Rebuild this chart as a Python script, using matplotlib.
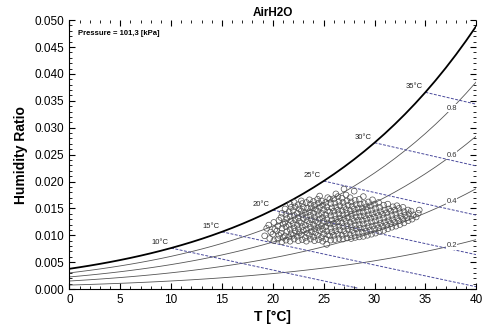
import numpy as np
from matplotlib import pyplot as plt
from matplotlib.ticker import MultipleLocator

plt.rcParams["font.family"] = ["Liberation Sans", "DejaVu Sans"]

P_atm = 101.3  # kPa

# saturation pressure of water [kPa], 0..40 C
T_tab = list(range(0, 41))
psat_tab = [0.6113, 0.6571, 0.7060, 0.7581, 0.8135, 0.8725, 0.9353, 1.0020, 1.0729, 1.1481,
            1.2281, 1.3129, 1.4027, 1.4979, 1.5988, 1.7056, 1.8185, 1.9380, 2.0644, 2.1978,
            2.3388, 2.4877, 2.6447, 2.8104, 2.9850, 3.1690, 3.3629, 3.5670, 3.7818, 4.0078,
            4.2455, 4.4953, 4.7578, 5.0335, 5.3229, 5.6267, 5.9453, 6.2795, 6.6298, 6.9969,
            7.3814]

rh_levels = [1.0, 0.8, 0.6, 0.4, 0.2]
rh_labels = ["", "0.8", "0.6", "0.4", "0.2"]
twb_levels = [10, 15, 20, 25, 30, 35]
twb_labels = ["10°C", "15°C", "20°C", "25°C", "30°C", "35°C"]

# measured points
meas_T = [
    19.2, 19.4,
    19.7, 19.8, 19.6,
    20.1, 20.0, 20.2, 20.1,
    20.5, 20.6, 20.4, 20.5, 20.6,
    20.9, 21.0, 20.8, 20.9, 21.0, 20.8, 20.9,
    21.3, 21.2, 21.4, 21.3, 21.2, 21.4, 21.3, 21.2,
    21.7, 21.6, 21.8, 21.7, 21.6, 21.8, 21.7, 21.6, 21.8, 21.7,
    22.1, 22.0, 22.2, 22.1, 22.0, 22.2, 22.1, 22.0, 22.2, 22.1,
    22.5, 22.4, 22.6, 22.5, 22.4, 22.6, 22.5, 22.4, 22.6, 22.5,
    22.9, 22.8, 23.0, 22.9, 22.8, 23.0, 22.9, 22.8, 23.0, 22.9, 22.8,
    23.3, 23.2, 23.4, 23.3, 23.2, 23.4, 23.3, 23.2, 23.4, 23.3,
    23.7, 23.6, 23.8, 23.7, 23.6, 23.8, 23.7, 23.6, 23.8, 23.7, 23.6,
    24.1, 24.0, 24.2, 24.1, 24.0, 24.2, 24.1, 24.0, 24.2, 24.1, 24.0,
    24.5, 24.4, 24.6, 24.5, 24.4, 24.6, 24.5, 24.4, 24.6, 24.5, 24.4, 24.6,
    24.9, 24.8, 25.0, 24.9, 24.8, 25.0, 24.9, 24.8, 25.0, 24.9, 24.8,
    25.3, 25.2, 25.4, 25.3, 25.2, 25.4, 25.3, 25.2, 25.4, 25.3, 25.2, 25.4,
    25.7, 25.6, 25.8, 25.7, 25.6, 25.8, 25.7, 25.6, 25.8, 25.7, 25.6,
    26.1, 26.0, 26.2, 26.1, 26.0, 26.2, 26.1, 26.0, 26.2, 26.1, 26.0, 26.2,
    26.5, 26.4, 26.6, 26.5, 26.4, 26.6, 26.5, 26.4, 26.6, 26.5, 26.4,
    26.9, 26.8, 27.0, 26.9, 26.8, 27.0, 26.9, 26.8, 27.0, 26.9, 26.8, 27.0,
    27.3, 27.2, 27.4, 27.3, 27.2, 27.4, 27.3, 27.2, 27.4, 27.3, 27.2,
    27.7, 27.6, 27.8, 27.7, 27.6, 27.8, 27.7, 27.6, 27.8, 27.7, 27.6,
    28.1, 28.0, 28.2, 28.1, 28.0, 28.2, 28.1, 28.0, 28.2, 28.1, 28.0,
    28.5, 28.4, 28.6, 28.5, 28.4, 28.6, 28.5, 28.4, 28.6, 28.5,
    28.9, 28.8, 29.0, 28.9, 28.8, 29.0, 28.9, 28.8, 29.0, 28.9,
    29.3, 29.2, 29.4, 29.3, 29.2, 29.4, 29.3, 29.2, 29.4,
    29.7, 29.6, 29.8, 29.7, 29.6, 29.8, 29.7, 29.6, 29.8,
    30.1, 30.0, 30.2, 30.1, 30.0, 30.2, 30.1, 30.0,
    30.5, 30.4, 30.6, 30.5, 30.4, 30.6, 30.5, 30.4,
    30.9, 30.8, 31.0, 30.9, 30.8, 31.0, 30.9,
    31.3, 31.2, 31.4, 31.3, 31.2, 31.4, 31.3,
    31.7, 31.6, 31.8, 31.7, 31.6, 31.8,
    32.1, 32.0, 32.2, 32.1, 32.0, 32.2,
    32.5, 32.4, 32.6, 32.5, 32.4,
    32.9, 32.8, 33.0, 32.9, 32.8,
    33.3, 33.2, 33.4, 33.3,
    33.7, 33.8, 33.6,
    34.1, 34.3, 34.4,
]
meas_w = [
    0.0099, 0.0113,
    0.0094, 0.0106, 0.0119,
    0.0090, 0.0102, 0.0111, 0.0124,
    0.0093, 0.0100, 0.0108, 0.0117, 0.0128,
    0.0088, 0.0096, 0.0104, 0.0113, 0.0121, 0.0133, 0.0141,
    0.0091, 0.0099, 0.0107, 0.0116, 0.0124, 0.0131, 0.0139, 0.0149,
    0.0089, 0.0097, 0.0103, 0.0111, 0.0119, 0.0127, 0.0135, 0.0144, 0.0152, 0.0158,
    0.0093, 0.0100, 0.0108, 0.0114, 0.0122, 0.0129, 0.0137, 0.0146, 0.0153, 0.0161,
    0.0090, 0.0098, 0.0105, 0.0112, 0.0119, 0.0126, 0.0133, 0.0141, 0.0149, 0.0157,
    0.0092, 0.0101, 0.0109, 0.0116, 0.0123, 0.0131, 0.0138, 0.0145, 0.0152, 0.0159, 0.0164,
    0.0089, 0.0096, 0.0104, 0.0111, 0.0119, 0.0127, 0.0134, 0.0142, 0.0150, 0.0161,
    0.0093, 0.0100, 0.0107, 0.0115, 0.0122, 0.0129, 0.0137, 0.0144, 0.0151, 0.0158, 0.0166,
    0.0090, 0.0097, 0.0105, 0.0112, 0.0120, 0.0127, 0.0134, 0.0141, 0.0149, 0.0156, 0.0163,
    0.0092, 0.0100, 0.0108, 0.0115, 0.0123, 0.0130, 0.0138, 0.0145, 0.0152, 0.0160, 0.0167, 0.0173,
    0.0089, 0.0096, 0.0103, 0.0111, 0.0118, 0.0126, 0.0133, 0.0141, 0.0148, 0.0156, 0.0164,
    0.0083, 0.0093, 0.0101, 0.0108, 0.0116, 0.0123, 0.0131, 0.0138, 0.0146, 0.0153, 0.0161, 0.0170,
    0.0091, 0.0099, 0.0106, 0.0113, 0.0121, 0.0128, 0.0136, 0.0143, 0.0151, 0.0159, 0.0167,
    0.0092, 0.0100, 0.0108, 0.0115, 0.0122, 0.0130, 0.0137, 0.0145, 0.0152, 0.0160, 0.0168, 0.0177,
    0.0094, 0.0102, 0.0110, 0.0117, 0.0125, 0.0132, 0.0140, 0.0147, 0.0155, 0.0163, 0.0172,
    0.0093, 0.0100, 0.0108, 0.0116, 0.0123, 0.0131, 0.0138, 0.0146, 0.0153, 0.0161, 0.0169, 0.0186,
    0.0095, 0.0103, 0.0111, 0.0118, 0.0126, 0.0133, 0.0141, 0.0148, 0.0156, 0.0164, 0.0175,
    0.0094, 0.0101, 0.0109, 0.0116, 0.0124, 0.0131, 0.0139, 0.0146, 0.0154, 0.0162, 0.0170,
    0.0096, 0.0104, 0.0112, 0.0119, 0.0127, 0.0134, 0.0142, 0.0149, 0.0157, 0.0165, 0.0182,
    0.0097, 0.0105, 0.0113, 0.0120, 0.0128, 0.0135, 0.0143, 0.0150, 0.0158, 0.0167,
    0.0098, 0.0106, 0.0113, 0.0121, 0.0128, 0.0136, 0.0143, 0.0151, 0.0159, 0.0172,
    0.0100, 0.0108, 0.0116, 0.0123, 0.0131, 0.0138, 0.0146, 0.0153, 0.0162,
    0.0102, 0.0110, 0.0117, 0.0125, 0.0132, 0.0140, 0.0147, 0.0155, 0.0166,
    0.0104, 0.0112, 0.0119, 0.0127, 0.0134, 0.0142, 0.0150, 0.0158,
    0.0107, 0.0114, 0.0122, 0.0129, 0.0137, 0.0144, 0.0152, 0.0161,
    0.0109, 0.0117, 0.0124, 0.0132, 0.0139, 0.0147, 0.0156,
    0.0112, 0.0119, 0.0127, 0.0134, 0.0142, 0.0149, 0.0158,
    0.0115, 0.0122, 0.0129, 0.0137, 0.0145, 0.0153,
    0.0117, 0.0124, 0.0132, 0.0139, 0.0147, 0.0155,
    0.0120, 0.0127, 0.0135, 0.0142, 0.0150,
    0.0123, 0.0130, 0.0137, 0.0144, 0.0152,
    0.0127, 0.0133, 0.0140, 0.0147,
    0.0130, 0.0138, 0.0145,
    0.0134, 0.0141, 0.0147,
]


def hum_ratio(pv):
    return 0.622 * pv / (P_atm - pv)


def main():
    T = np.array(T_tab, dtype=float)
    ps = np.array(psat_tab)

    fig = plt.figure(figsize=(4.82, 3.35), dpi=100)
    ax = fig.add_axes([0.144, 0.137, 0.844, 0.803])

    # relative humidity lines
    for rh, lab in zip(rh_levels, rh_labels):
        w = hum_ratio(rh * ps)
        if rh == 1.0:
            ax.plot(T, w, color="black", lw=1.3, zorder=3)
        else:
            ax.plot(T, w, color="#555555", lw=0.6, zorder=2)
            tl = 37.6
            wl = np.interp(tl, T, w)
            ax.text(tl, wl, lab, fontsize=5.5, color="#333333", ha="center", va="center",
                    bbox=dict(facecolor="white", edgecolor="none", pad=0.3), zorder=4)

    # wet bulb lines
    for twb, lab in zip(twb_levels, twb_labels):
        ws = np.interp(twb, T, hum_ratio(ps))
        tt = np.linspace(twb, 40, 60)
        ww = ((2501 - 2.326 * twb) * ws - 1.006 * (tt - twb)) / (2501 + 1.86 * tt - 4.186 * twb)
        keep = ww >= 0
        ax.plot(tt[keep], ww[keep], color="#4a4a9c", lw=0.7, dashes=(3, 1.5), zorder=2)
        ax.annotate(lab, (twb, ws), xytext=(-2, 1.5), textcoords="offset points",
                    fontsize=5.5, ha="right", va="bottom", color="#222222")

    ax.scatter(meas_T, meas_w, s=17, facecolors="none", edgecolors="#505050",
               linewidths=0.5, zorder=5)

    ax.set_xlim(0, 40)
    ax.set_ylim(0, 0.05)
    ax.xaxis.set_major_locator(MultipleLocator(5))
    ax.xaxis.set_minor_locator(MultipleLocator(1))
    ax.yaxis.set_major_locator(MultipleLocator(0.005))
    ax.yaxis.set_minor_locator(MultipleLocator(0.001))
    ax.yaxis.set_major_formatter(plt.FormatStrFormatter("%.3f"))
    ax.tick_params(which="both", direction="in", top=True, right=True, labelsize=8.5)
    ax.tick_params(which="major", length=4)
    ax.tick_params(which="minor", length=2)
    ax.spines["top"].set_visible(False)
    ax.spines["right"].set_visible(False)

    ax.set_xlabel("T [°C]", fontsize=10, fontweight="bold", labelpad=3)
    ax.set_ylabel("Humidity Ratio", fontsize=10, fontweight="bold", labelpad=5)
    ax.set_title("AirH2O", fontsize=8.5, fontweight="bold", pad=3)
    ax.text(0.02, 0.965, "Pressure = 101,3 [kPa]", transform=ax.transAxes,
            fontsize=5.5, fontweight="bold", va="top")

    fig.savefig("out.png", dpi=100)


if __name__ == '__main__':
    main()
